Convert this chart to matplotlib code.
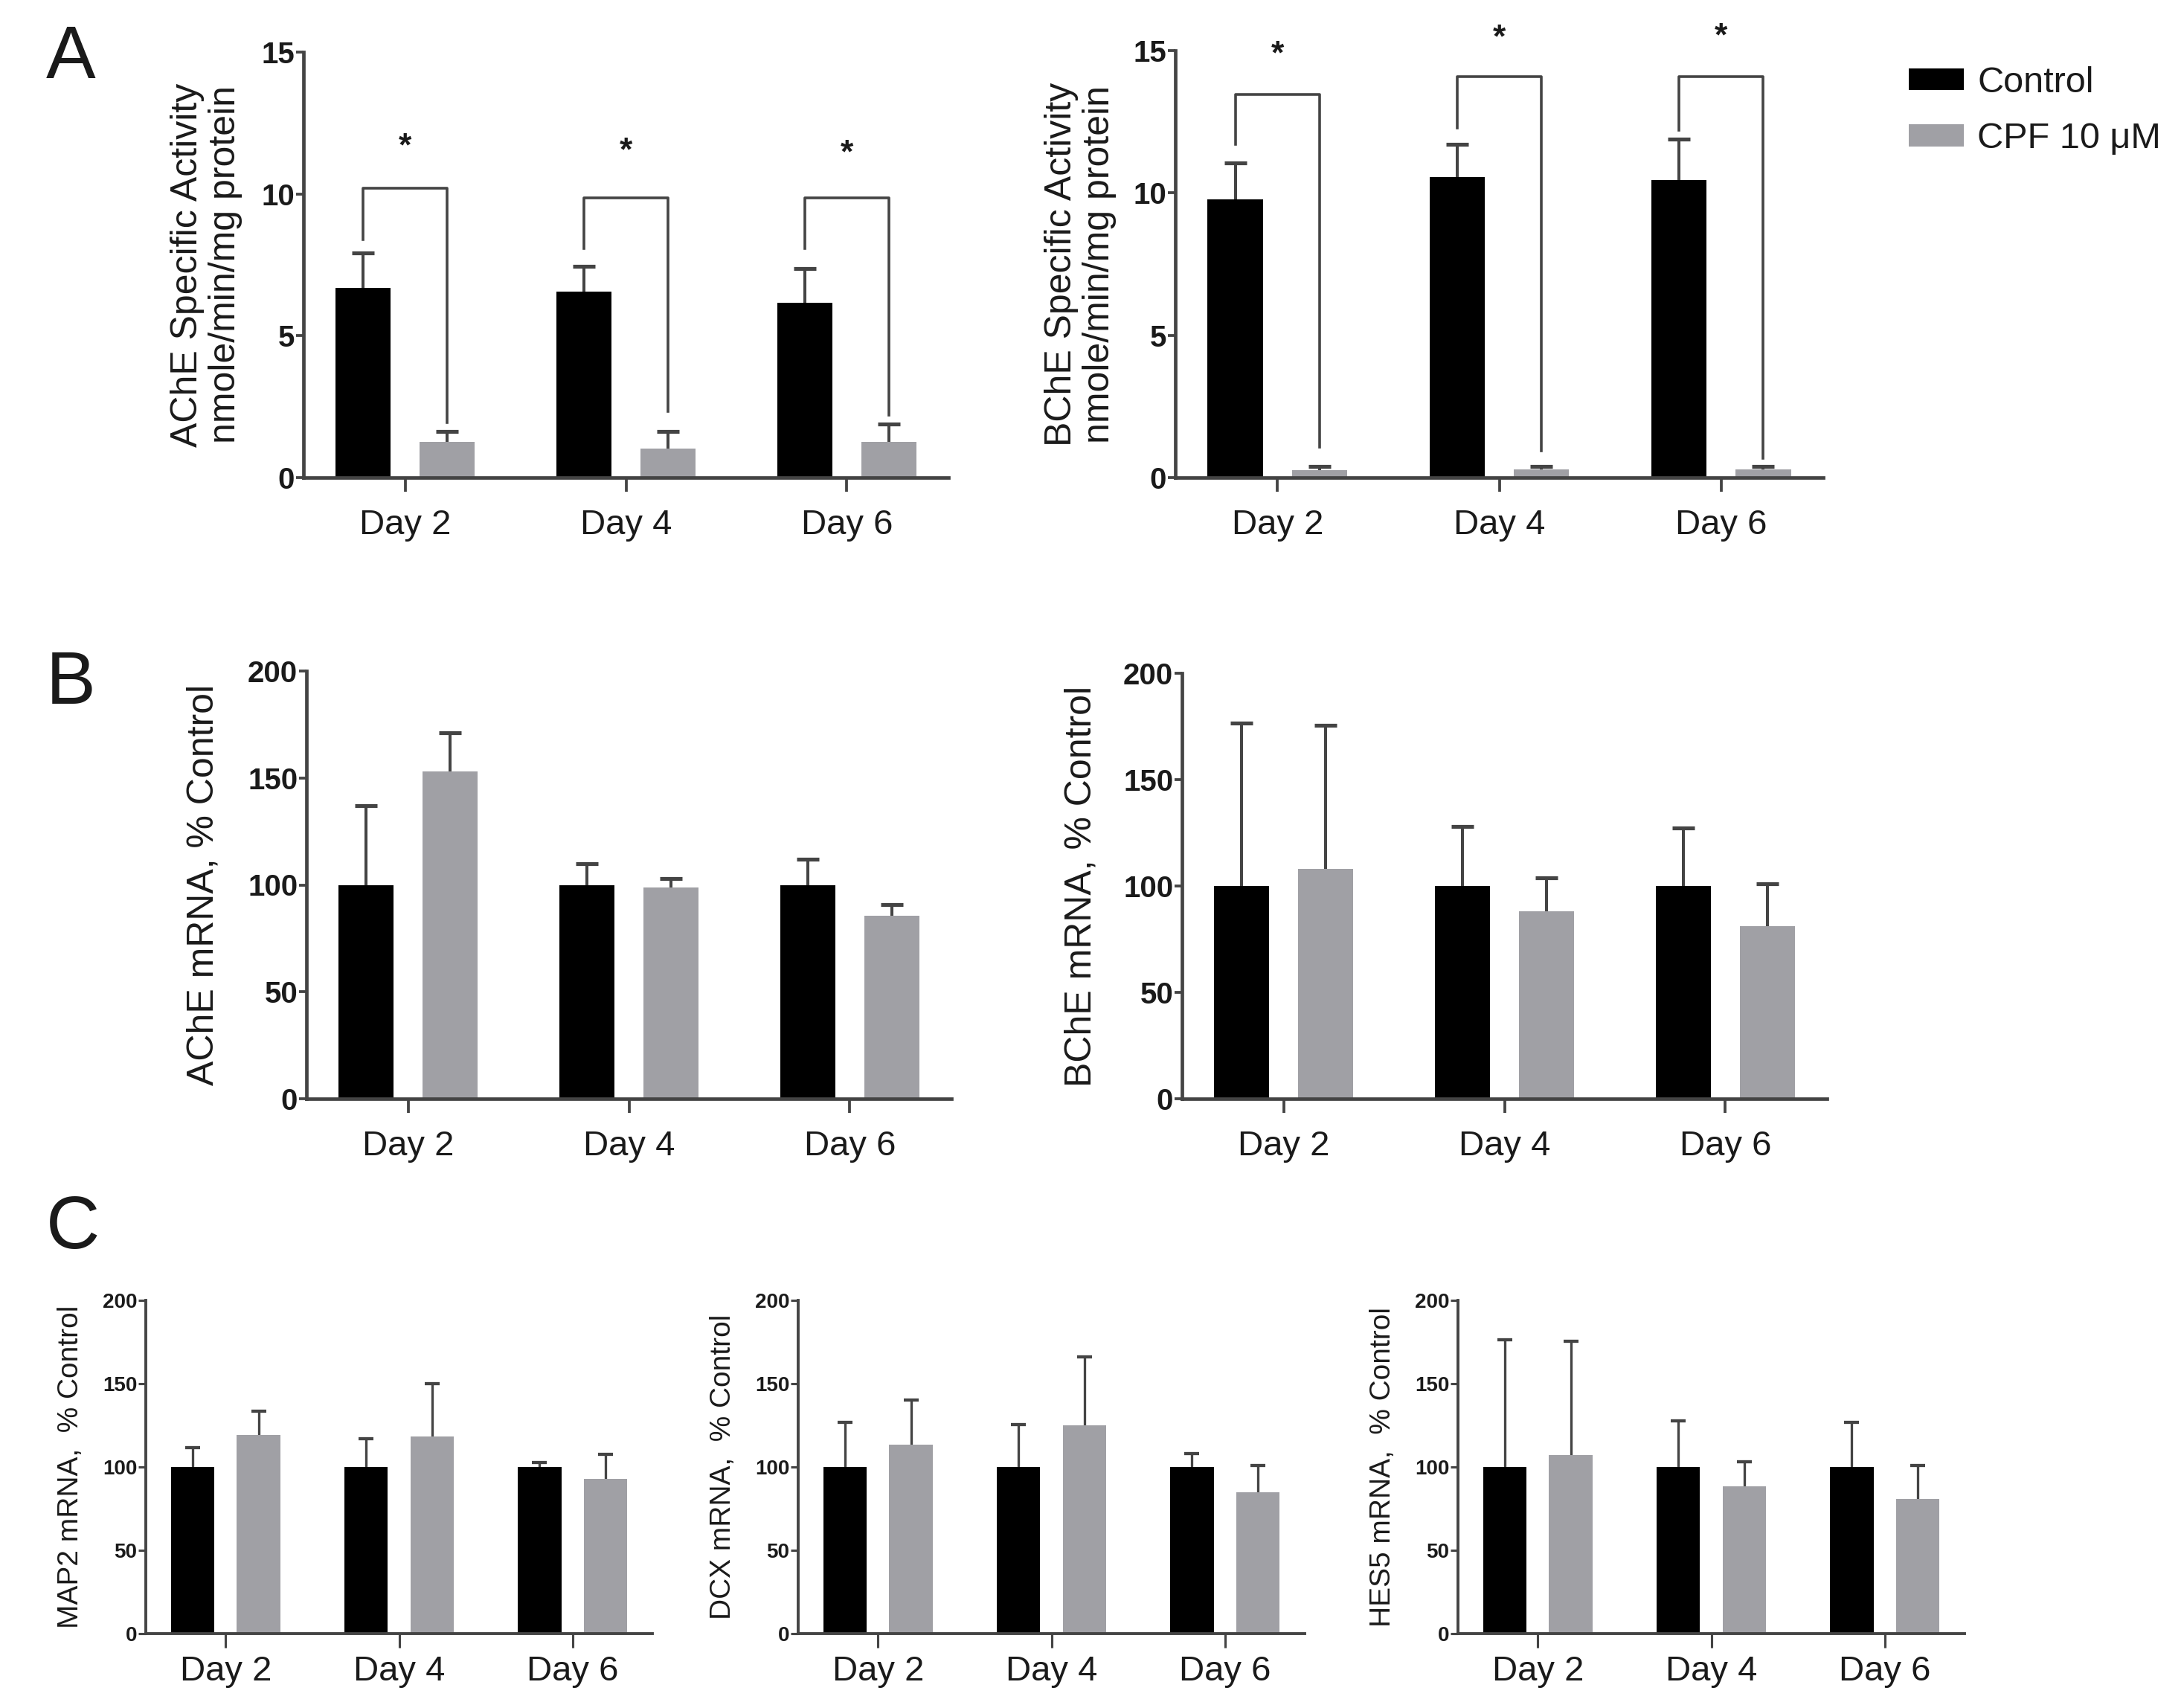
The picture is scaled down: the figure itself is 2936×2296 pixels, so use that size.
import matplotlib.pyplot as plt
from matplotlib.patches import Patch
import numpy as np

plt.rcParams['font.family'] = ['Liberation Sans', 'DejaVu Sans']

W, H = 2936, 2296

days = ["Day 2", "Day 4", "Day 6"]

# Panel A: specific activity, nmole/min/mg protein
ache_act_ctrl = [6.70, 6.55, 6.17]
ache_act_ctrl_err = [1.23, 0.90, 1.19]
ache_act_cpf = [1.25, 1.02, 1.25]
ache_act_cpf_err = [0.38, 0.61, 0.64]

bche_act_ctrl = [9.78, 10.55, 10.46]
bche_act_ctrl_err = [1.28, 1.17, 1.43]
bche_act_cpf = [0.25, 0.30, 0.30]
bche_act_cpf_err = [0.13, 0.10, 0.10]

# significance brackets: top, left leg end, right leg end, star height
ache_br_top = [10.19, 9.87, 9.87]
ache_br_left = [8.40, 8.08, 8.08]
ache_br_right = [1.95, 2.34, 2.20]
ache_star = [11.65, 11.50, 11.40]

bche_br_top = [13.45, 14.08, 14.08]
bche_br_left = [11.70, 12.27, 12.20]
bche_br_right = [1.06, 0.93, 0.68]
bche_star = [14.85, 15.42, 15.48]

# Panel B: mRNA, % control
ache_mrna_ctrl = [100, 100, 100]
ache_mrna_ctrl_err = [37, 10, 12]
ache_mrna_cpf = [153, 98.7, 85.6]
ache_mrna_cpf_err = [18, 4.3, 5.1]

bche_mrna_ctrl = [100, 100, 100]
bche_mrna_ctrl_err = [76.6, 28, 27.4]
bche_mrna_cpf = [108, 88, 81]
bche_mrna_cpf_err = [67.5, 15.7, 20]

# Panel C: mRNA, % control
map2_ctrl = [100, 100, 100]
map2_ctrl_err = [11.8, 16.8, 2.5]
map2_cpf = [119.4, 118.4, 93]
map2_cpf_err = [13.9, 31.8, 14.5]

dcx_ctrl = [100, 100, 100]
dcx_ctrl_err = [26.6, 25.6, 7.9]
dcx_cpf = [113.3, 124.9, 85]
dcx_cpf_err = [26.7, 41.1, 16]

hes5_ctrl = [100, 100, 100]
hes5_ctrl_err = [76.5, 27.9, 27]
hes5_cpf = [107, 88.3, 80.6]
hes5_cpf_err = [68.3, 14.7, 20.4]

BLACK = "#000000"
GREY = "#a0a0a5"
LINE = "#444444"
TEXT = "#1a1a1a"

x = np.arange(len(days))
off = 0.19
bw = 0.25

fig = plt.figure(figsize=(W / 100, H / 100), dpi=100)


def make_ax(left, right, top, zero):
    return fig.add_axes([left / W, (H - zero) / H, (right - left) / W, (zero - top) / H])


def draw_panel(ax, ctrl, ctrl_err, cpf, cpf_err, ymax, yticks, ylabel,
               ylab_size, ytick_size, lw, cap, ylabelpad, xpad):
    for xs, vals, errs, col in [(x - off, ctrl, ctrl_err, BLACK),
                                (x + off, cpf, cpf_err, GREY)]:
        ax.bar(xs, vals, width=bw, color=col, zorder=2)
        tops = np.array(vals) + np.array(errs)
        ax.vlines(xs, vals, tops, color=LINE, lw=lw * 0.85, zorder=1)
        ax.plot(xs, tops, ls="none", marker="_", ms=cap, mew=lw * 1.1,
                color=LINE, zorder=1)
    ax.set_xlim(-0.46, 2.46)
    ax.set_ylim(0, ymax)
    ax.set_yticks(yticks)
    ax.set_xticks(x)
    ax.set_xticklabels(days, fontsize=34, color=TEXT)
    ax.set_yticklabels([str(t) for t in yticks], fontsize=ytick_size,
                       fontweight="bold", color=TEXT)
    for s in ["top", "right"]:
        ax.spines[s].set_visible(False)
    for s in ["left", "bottom"]:
        ax.spines[s].set_linewidth(lw)
        ax.spines[s].set_color(LINE)
    ax.tick_params(axis="y", direction="out", length=7, width=lw * 0.8,
                   color=LINE, pad=1.5)
    ax.tick_params(axis="x", direction="out", length=14, width=lw * 0.8,
                   color=LINE, pad=xpad)
    ax.set_ylabel(ylabel, fontsize=ylab_size, color=TEXT, labelpad=ylabelpad,
                  linespacing=1.15)


def brackets(ax, top, left, right, star):
    for i in range(len(top)):
        ax.plot([x[i] - off, x[i] - off, x[i] + off, x[i] + off],
                [left[i], top[i], top[i], right[i]],
                color=LINE, lw=2.6, zorder=3, clip_on=False)
        ax.text(x[i], star[i], "*", ha="center", va="center", fontsize=32,
                fontweight="bold", color=TEXT, clip_on=False)


# Row A
axA1 = make_ax(408, 1275, 70, 642)
draw_panel(axA1, ache_act_ctrl, ache_act_ctrl_err, ache_act_cpf, ache_act_cpf_err,
           15, [0, 5, 10, 15], "AChE Specific Activity\nnmole/min/mg protein",
           36, 29, 3.4, 21, 18, 16)
brackets(axA1, ache_br_top, ache_br_left, ache_br_right, ache_star)

axA2 = make_ax(1580, 2451, 68, 642)
draw_panel(axA2, bche_act_ctrl, bche_act_ctrl_err, bche_act_cpf, bche_act_cpf_err,
           15, [0, 5, 10, 15], "BChE Specific Activity\nnmole/min/mg protein",
           36, 29, 3.4, 21, 16, 16)
brackets(axA2, bche_br_top, bche_br_left, bche_br_right, bche_star)

# Row B
axB1 = make_ax(412, 1279, 902, 1477)
draw_panel(axB1, ache_mrna_ctrl, ache_mrna_ctrl_err, ache_mrna_cpf, ache_mrna_cpf_err,
           200, [0, 50, 100, 150, 200], "AChE mRNA, % Control",
           36, 29, 3.4, 21, 26, 16)

axB2 = make_ax(1589, 2456, 905, 1477)
draw_panel(axB2, bche_mrna_ctrl, bche_mrna_ctrl_err, bche_mrna_cpf, bche_mrna_cpf_err,
           200, [0, 50, 100, 150, 200], "BChE mRNA, % Control",
           36, 29, 3.4, 21, 24, 16)

# Row C
c_rows = [(196, 877, map2_ctrl, map2_ctrl_err, map2_cpf, map2_cpf_err, "MAP2 mRNA,  % Control"),
          (1073, 1754, dcx_ctrl, dcx_ctrl_err, dcx_cpf, dcx_cpf_err, "DCX mRNA,  % Control"),
          (1960, 2641, hes5_ctrl, hes5_ctrl_err, hes5_cpf, hes5_cpf_err, "HES5 mRNA,  % Control")]
for l, r, c, ce, p, pe, lab in c_rows:
    ax = make_ax(l, r, 1748, 2196)
    draw_panel(ax, c, ce, p, pe, 200, [0, 50, 100, 150, 200], lab,
               28, 20, 2.8, 15, 18, 7)

# panel letters
fig.text(62 / W, 1 - 79 / H, "A", fontsize=72, va="center", ha="left", color=TEXT)
fig.text(62 / W, 1 - 920 / H, "B", fontsize=72, va="center", ha="left", color=TEXT)
fig.text(62 / W, 1 - 1652 / H, "C", fontsize=72, va="center", ha="left", color=TEXT)

# legend
handles = [Patch(facecolor=BLACK, edgecolor="none", label="Control"),
           Patch(facecolor=GREY, edgecolor="none", label="CPF 10 \u03bcM")]
fig.legend(handles=handles, loc="upper left", bbox_to_anchor=(2566 / W, 1 - 89 / H),
           frameon=False, fontsize=35, handlelength=1.52, handleheight=0.55,
           handletextpad=0.38, labelspacing=0.62, borderpad=0, borderaxespad=0,
           labelcolor=TEXT)

fig.savefig("out.png", dpi=100)
